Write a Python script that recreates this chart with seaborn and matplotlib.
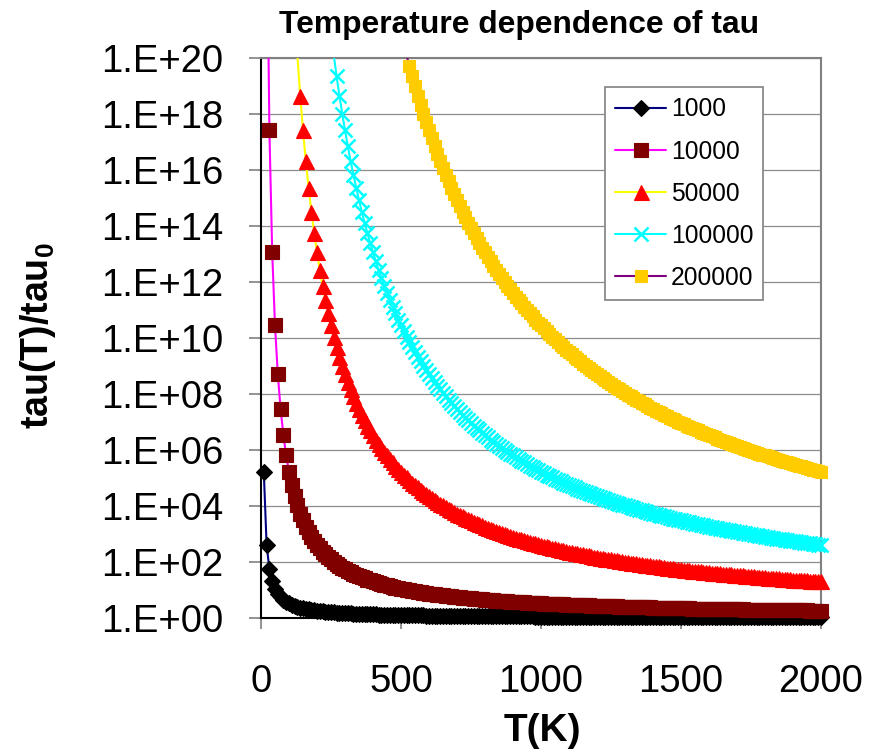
import numpy as np
import pandas as pd
import seaborn as sns
import matplotlib
matplotlib.use("Agg")
import matplotlib.pyplot as plt
from matplotlib.lines import Line2D
from matplotlib.ticker import FixedLocator, FuncFormatter, NullLocator

# ---------------- data ----------------
temperatures_K = list(range(10, 2001, 10))          # T grid of the sheet
activation_energies = [1000, 10000, 50000, 100000, 200000]   # legend entries (J/mol)
gas_constant = 8.314
series_labels = ["1000", "10000", "50000", "100000", "200000"]
x_ticks = [0, 500, 1000, 1500, 2000]
y_tick_exponents = [0, 2, 4, 6, 8, 10, 12, 14, 16, 18, 20]

# ---------------- style ----------------
line_colors = ["#000080", "#FF00FF", "#FFFF00", "#00FFFF", "#800080"]
marker_face = ["#000000", "#800000", "#FF0000", "#00FFFF", "#FFCC00"]
marker_shapes = ["D", "s", "^", "x", "s"]
marker_sizes = [8.3, 10.5, 10.8, 9.5, 9.3]

sns.set_style("white")
plt.rcParams["font.family"] = ["Liberation Sans", "DejaVu Sans"]
plt.rcParams["mathtext.fontset"] = "custom"
plt.rcParams["mathtext.rm"] = "Liberation Sans"
plt.rcParams["mathtext.bf"] = "Liberation Sans:bold"
plt.rcParams["text.color"] = "black"
plt.rcParams["axes.labelcolor"] = "black"
plt.rcParams["xtick.color"] = "black"
plt.rcParams["ytick.color"] = "black"

T = np.array(temperatures_K, dtype=float)
rows = []
for E, lab in zip(activation_energies, series_labels):
    log10_ratio = E / (gas_constant * T) / np.log(10)
    for t, lr in zip(T, log10_ratio):
        if lr < 40:
            rows.append({"T": t, "ratio": 10.0 ** lr, "series": lab})
df = pd.DataFrame(rows)

fig = plt.figure(figsize=(8.76, 7.5), dpi=100)
ax = fig.add_axes([261 / 876, 1 - 618 / 750, (821 - 261) / 876, (618 - 58) / 750])

ax.set_yscale("log")
ax.set_xlim(0, 2000)
ax.set_ylim(1, 1e20)

for i, lab in enumerate(series_labels):
    sub = df[df["series"] == lab]
    sns.lineplot(data=sub, x="T", y="ratio", ax=ax, color=line_colors[i],
                 lw=1.5, estimator=None, sort=False, zorder=3 + i,
                 clip_on=True)
    inr = sub[(sub["ratio"] <= 1e20) & (sub["ratio"] >= 1)]
    mew = 1.8 if marker_shapes[i] == "x" else 0.8
    sns.lineplot(data=inr, x="T", y="ratio", ax=ax, color=marker_face[i],
                 linestyle="none", marker=marker_shapes[i], ms=marker_sizes[i],
                 markerfacecolor=marker_face[i], markeredgecolor=marker_face[i],
                 markeredgewidth=mew, estimator=None, sort=False,
                 zorder=3.5 + i, clip_on=False)

ax.set_xlabel("")
ax.set_ylabel("")
ax.xaxis.set_major_locator(FixedLocator(x_ticks))
ax.yaxis.set_major_locator(FixedLocator([10.0 ** e for e in y_tick_exponents]))
ax.yaxis.set_minor_locator(NullLocator())
ax.yaxis.set_major_formatter(FuncFormatter(lambda v, p: "1.E+%02d" % round(np.log10(v))))

ax.grid(axis="y", color="#8c8c8c", lw=0.9)
ax.grid(axis="x", visible=False)
ax.set_axisbelow(True)

for s in ["left", "bottom"]:
    ax.spines[s].set_color("#000000")
    ax.spines[s].set_linewidth(1.5)
    ax.spines[s].set_visible(True)
for s in ["top", "right"]:
    ax.spines[s].set_color("#808080")
    ax.spines[s].set_linewidth(1.5)
    ax.spines[s].set_visible(True)

ax.tick_params(axis="y", which="major", direction="out", length=8.5, width=1.2,
               color="#808080", labelcolor="black", labelsize=27.5, pad=18.5, left=True)
ax.tick_params(axis="x", which="major", direction="out", length=8, width=1.2,
               color="#808080", labelcolor="black", labelsize=27.5, pad=25, bottom=True)

fig.text(519 / 876, 1 - 33 / 750, "Temperature dependence of tau", ha="center",
         va="baseline", fontsize=22.9, fontweight="bold", color="black")
fig.text(542 / 876, 1 - 741 / 750, "T(K)", ha="center", va="baseline",
         fontsize=28, fontweight="bold", color="black")
fig.text(38 / 876, 1 - 336 / 750, r"tau(T)/tau$_\mathbf{0}$", ha="center",
         va="center", rotation=90, fontsize=27, fontweight="bold", color="black")

handles = []
for i, lab in enumerate(series_labels):
    mew = 1.8 if marker_shapes[i] == "x" else 0.8
    handles.append(Line2D([], [], color=line_colors[i], lw=1.5,
                          marker=marker_shapes[i], ms=marker_sizes[i],
                          markerfacecolor=marker_face[i],
                          markeredgecolor=marker_face[i], markeredgewidth=mew))
leg = ax.legend(handles, series_labels, loc="upper left",
                bbox_to_anchor=(605 / 876, 1 - 87 / 750),
                bbox_transform=fig.transFigure, borderaxespad=0,
                fontsize=17.7, frameon=True, fancybox=False, shadow=False,
                edgecolor="#808080", framealpha=1, numpoints=1,
                handlelength=2.05, handletextpad=0.2, borderpad=0.42,
                labelspacing=0.74)
leg.get_frame().set_linewidth(1.2)
leg.set_zorder(20)
for txt in leg.get_texts():
    txt.set_color("black")

fig.savefig("out.png", dpi=100)
